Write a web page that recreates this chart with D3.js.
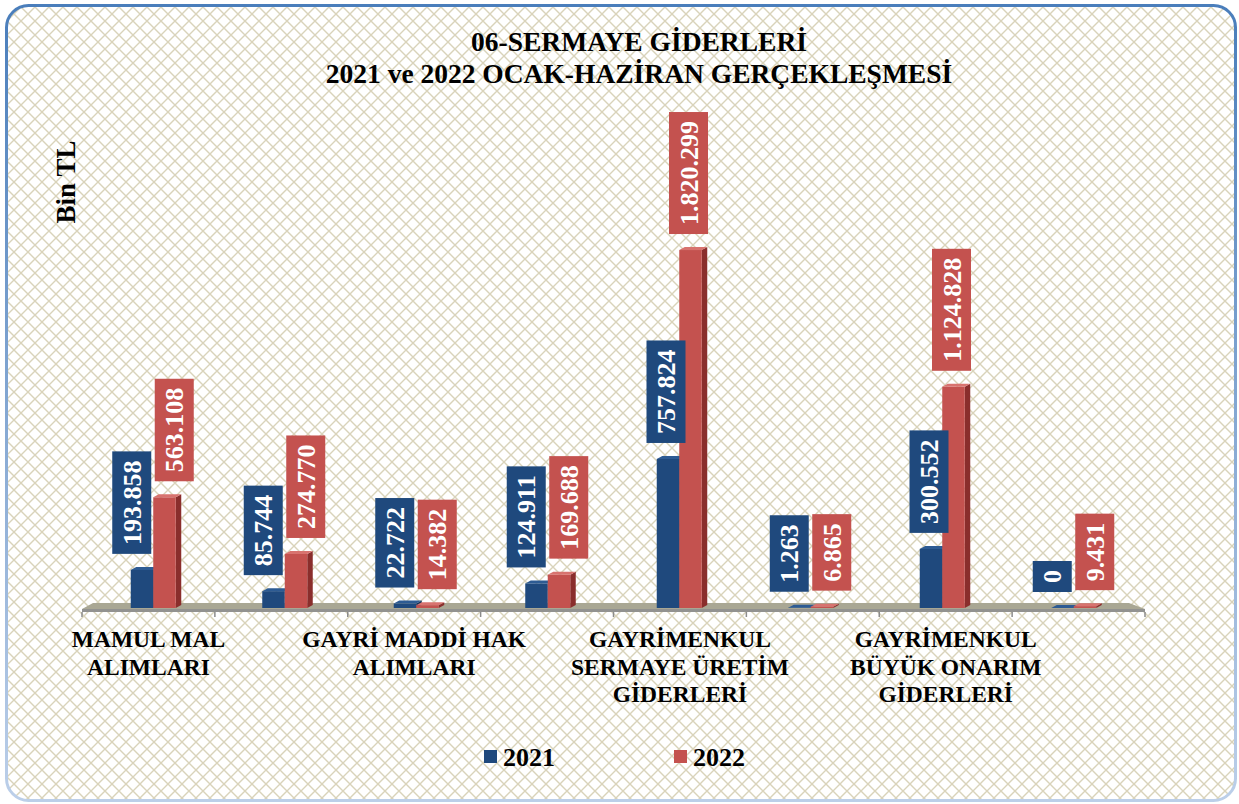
<!DOCTYPE html>
<html>
<head>
<meta charset="utf-8">
<script src="https://cdn.jsdelivr.net/npm/d3@7"></script>
<style>
  body { margin: 0; background: #fff; }
  text { font-family: "Liberation Serif", "Times New Roman", serif; font-weight: bold; }
</style>
</head>
<body>
<script>
// data
var categories = [
  "MAMUL MAL\nALIMLARI",
  "MENKUL SERMAYE\nÜRETİM GİDERLERİ",
  "GAYRİ MADDİ HAK\nALIMLARI",
  "GAYRİMENKUL ALIMLARI\nVE KAMULAŞTIRMASI",
  "GAYRİMENKUL\nSERMAYE ÜRETİM\nGİDERLERİ",
  "MENKUL MALLARIN\nBÜYÜK ONARIM\nGİDERLERİ",
  "GAYRİMENKUL\nBÜYÜK ONARIM\nGİDERLERİ",
  "DİĞER SERMAYE\nGİDERLERİ"
];
var years = ["2021", "2022"];
var values2021 = [193858, 85744, 22722, 124911, 757824, 1263, 300552, 0];
var values2022 = [563108, 274770, 14382, 169688, 1820299, 6865, 1124828, 9431];

var width = 1239,
  height = 804;

var colors = {
  "2021": { front: "#1f497d", top: "#2d5b93", side: "#16355c" },
  "2022": { front: "#c4524f", top: "#d8736f", side: "#8a2e2c" }
};

var tr = d3.formatLocale({ decimal: ",", thousands: ".", grouping: [3], currency: ["", ""] });
var fmt = tr.format(",d");

var svg = d3.select("body")
  .append("svg")
  .attr("width", width)
  .attr("height", height);

var defs = svg.append("defs");

// lattice background
var pat = defs.append("pattern")
  .attr("id", "lattice")
  .attr("width", 14)
  .attr("height", 14)
  .attr("patternUnits", "userSpaceOnUse");
pat.append("rect").attr("width", 14).attr("height", 14).attr("fill", "#fff");
pat.append("path")
  .attr("d", "M0,0 L14,14 M14,0 L0,14")
  .attr("stroke", "#d9d3ba")
  .attr("stroke-width", 1.4);

var grad = defs.append("linearGradient")
  .attr("id", "borderGrad")
  .attr("x1", 0).attr("y1", 0).attr("x2", 0).attr("y2", 1);
grad.append("stop").attr("offset", "0%").attr("stop-color", "#4a7ebb");
grad.append("stop").attr("offset", "100%").attr("stop-color", "#bccfe9");

svg.append("rect")
  .attr("x", 6.5)
  .attr("y", 5.5)
  .attr("width", 1229)
  .attr("height", 795)
  .attr("rx", 22)
  .attr("fill", "url(#lattice)")
  .attr("stroke", "url(#borderGrad)")
  .attr("stroke-width", 3);

// title
var title = svg.append("text")
  .attr("text-anchor", "middle")
  .style("font-size", "27.5px");
title.append("tspan").attr("x", 639).attr("y", 51).text("06-SERMAYE GİDERLERİ");
title.append("tspan").attr("x", 639).attr("y", 83).text("2021 ve 2022 OCAK-HAZİRAN GERÇEKLEŞMESİ");

svg.append("text")
  .attr("transform", "translate(75,182) rotate(-90)")
  .attr("text-anchor", "middle")
  .style("font-size", "27px")
  .text("Bin TL");

// scales: floor (front edge) and bars (back plane, slightly narrower)
var xScale = d3.scaleBand()
  .domain(categories)
  .range([82, 1145])
  .padding(0);

var xBars = d3.scaleBand()
  .domain(categories)
  .range([87.5, 1139.5])
  .padding(0);

var yScale = d3.scaleLinear()
  .domain([0, 2000000])
  .range([608, 608 - 2000000 / 5085]);

var barW = 22.5, depth = 5.5, lift = 3;
var base = yScale(0);

// floor
var x0 = xScale.range()[0], x1 = xScale.range()[1];
svg.append("polygon")
  .attr("points", [[x0 + 11, base - 5], [x1 - 16, base - 5], [x1, base + 1], [x0, base + 1]].join(" "))
  .attr("fill", "#a9a794");
svg.append("rect")
  .attr("x", x0).attr("y", base + 1)
  .attr("width", x1 - x0).attr("height", 3)
  .attr("fill", "#929290");

// boundary ticks
var bounds = categories.map(function(d) { return xScale(d); }).concat([x1]);
svg.selectAll(".btick")
  .data(bounds)
  .enter()
  .append("line")
  .attr("x1", function(d) { return d; })
  .attr("x2", function(d) { return d; })
  .attr("y1", base + 4)
  .attr("y2", base + 9)
  .attr("stroke", "#8c8c8c")
  .attr("stroke-width", 1.5);

// x axis labels (every other category, like the original)
var xAxis = svg.append("g")
  .attr("transform", "translate(0," + (base + 4) + ")")
  .call(d3.axisBottom(xScale)
    .tickValues(categories.filter(function(d, i) { return i % 2 === 0; }))
    .tickSize(0));
xAxis.select(".domain").remove();
xAxis.selectAll(".tick text")
  .attr("fill", "#000")
  .attr("y", 0)
  .attr("dy", null)
  .style("font-size", "23.5px")
  .style("font-family", "Liberation Serif")
  .style("font-weight", "bold")
  .each(function(d) {
    var t = d3.select(this);
    t.text(null);
    d.split("\n").forEach(function(line, i) {
      t.append("tspan").attr("x", 0).attr("y", 35 + i * 27.5).text(line);
    });
  });

// bars
var rows = categories.map(function(c, i) {
  return { cat: c, vals: [values2021[i], values2022[i]] };
});

var groups = svg.selectAll(".cat")
  .data(rows)
  .enter()
  .append("g")
  .attr("class", "cat");

groups.each(function(d) {
  var g = d3.select(this);
  var pc = xBars(d.cat) + xBars.bandwidth() / 2;
  d.vals.forEach(function(v, k) {
    var c = colors[years[k]];
    var bx = pc - barW + k * barW;
    var top = yScale(v);
    g.append("polygon")
      .attr("points", [[bx + barW, top], [bx + barW + depth, top - lift], [bx + barW + depth, base - lift], [bx + barW, base]].join(" "))
      .attr("fill", c.side);
    g.append("rect")
      .attr("x", bx).attr("y", top)
      .attr("width", barW).attr("height", base - top)
      .attr("fill", c.front);
    g.append("polygon")
      .attr("points", [[bx, top], [bx + depth, top - lift], [bx + barW + depth, top - lift], [bx + barW, top]].join(" "))
      .attr("fill", c.top);
  });
});

// value labels: centred on bars, pushed side by side when they would collide
groups.each(function(d) {
  var g = d3.select(this);
  var pc = xBars(d.cat) + xBars.bandwidth() / 2;
  var boxW = 39, gap = 16;
  var labs = d.vals.map(function(v, k) {
    var lab = g.append("g");
    var rect = lab.append("rect")
      .attr("x", 0).attr("y", -boxW / 2)
      .attr("height", boxW)
      .attr("fill", colors[years[k]].front);
    var txt = lab.append("text")
      .attr("x", 9)
      .attr("y", 0)
      .attr("dy", "0.35em")
      .attr("fill", "#fff")
      .style("font-size", "26px")
      .text(fmt(v));
    var len = txt.node().getComputedTextLength() + 18;
    rect.attr("width", len);
    var bottom = yScale(v) - gap;
    return { node: lab, len: len, bottom: bottom, top: bottom - len };
  });
  var clash = labs[0].top < labs[1].bottom && labs[1].top < labs[0].bottom;
  labs.forEach(function(l, k) {
    var cx;
    if (clash) {
      cx = k === 0 ? pc - 2 - boxW / 2 : pc + 1.5 + boxW / 2;
    } else {
      cx = pc - barW / 2 + k * barW - 2;
    }
    l.node.attr("transform", "translate(" + cx + "," + l.bottom + ") rotate(-90)");
  });
});

// legend
var legend = svg.selectAll(".legend")
  .data(years)
  .enter()
  .append("g")
  .attr("transform", function(d, i) { return "translate(" + (484 + i * 190) + ",750)"; });
legend.append("rect")
  .attr("width", 13).attr("height", 13)
  .attr("fill", function(d) { return colors[d].front; });
legend.append("text")
  .attr("x", 19).attr("y", 16)
  .style("font-size", "26px")
  .text(function(d) { return d; });
</script>
</body>
</html>
